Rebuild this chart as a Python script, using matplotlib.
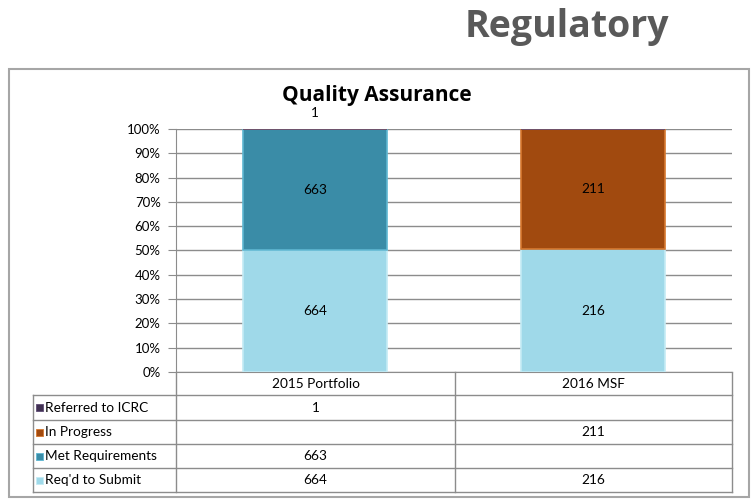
import numpy as np
import matplotlib
matplotlib.use("Agg")
import matplotlib.pyplot as plt
from matplotlib.patches import Rectangle

plt.rcParams["font.family"] = ["Lato", "DejaVu Sans"]

# === Data ===
categories = ["2015 Portfolio", "2016 MSF"]
series_names = ["Req'd to Submit", "Met Requirements", "In Progress", "Referred to ICRC"]
reqd_to_submit = [664, 216]
met_requirements = [663, 0]
in_progress = [0, 211]
referred_icrc = [1, 0]
series_values = [reqd_to_submit, met_requirements, in_progress, referred_icrc]
series_colors = ["#9fd9e9", "#3a8ca7", "#a14a0f", "#403152"]
edge_colors = ["#c4ebf5", "#5fb7d2", "#d7782f", "#5e4b75"]
y_ticks = np.arange(0, 1.01, 0.1)
y_tick_labels = [f"{int(round(t * 100))}%" for t in y_ticks]

W, H = 754, 499
FS = 9.8


def fx(x):
    return x / W


def fy(y):
    return 1 - y / H


fig = plt.figure(figsize=(W / 100, H / 100), dpi=100)
fig.patch.set_facecolor("white")

# === Page heading and outer frame ===
fig.text(fx(567), fy(27), "Regulatory", ha="center", va="center",
         fontsize=27, fontweight="bold", color="#595959",
         family=["Open Sans", "DejaVu Sans"])
fig.patches.append(Rectangle((fx(9), fy(497)), fx(749) - fx(9), fy(69) - fy(497),
                             transform=fig.transFigure, fill=False,
                             edgecolor="#a6a6a6", linewidth=1.5))
fig.text(fx(377), fy(96), "Quality Assurance", ha="center", va="center",
         fontsize=15, fontweight="bold", family=["Open Sans", "DejaVu Sans"])

# === Main chart ===
ax = fig.add_axes([fx(176), fy(372), fx(732) - fx(176), fy(129) - fy(372)])
totals = np.sum(series_values, axis=0)
x = np.arange(len(categories))
bottom = np.zeros(len(categories))
bar_w = 0.52
for vals, col, ec in zip(series_values, series_colors, edge_colors):
    frac = np.array(vals) / totals
    ax.bar(x, frac, bar_w, bottom=bottom, color=col, edgecolor=ec, linewidth=1.2, zorder=3)
    for i, v in enumerate(vals):
        if v == 0:
            continue
        if frac[i] < 0.02:
            ax.annotate(str(v), (x[i], bottom[i] + frac[i]), xytext=(0, 11.5),
                        textcoords="offset points", ha="center", va="center",
                        fontsize=FS, color="black", annotation_clip=False)
        else:
            ax.text(x[i], bottom[i] + frac[i] / 2, str(v), ha="center", va="center",
                    fontsize=FS, color="black", zorder=4)
    bottom += frac

ax.set_xlim(-0.5, len(categories) - 0.5)
ax.set_ylim(0, 1)
ax.set_yticks(y_ticks)
ax.set_yticklabels(y_tick_labels, fontsize=9.5)
ax.set_xticks([])
ax.grid(axis="y", color="#8c8c8c", linewidth=1, zorder=0)
for s in ["top", "right"]:
    ax.spines[s].set_visible(False)
ax.spines["left"].set_color("#8c8c8c")
ax.spines["bottom"].set_color("#8c8c8c")
ax.tick_params(axis="y", length=6, color="#8c8c8c", pad=5)
ax.set_facecolor("none")

# === Data table ===
line_kw = dict(color="#8c8c8c", linewidth=1, transform=fig.transFigure)
row_tops = [372, 395, 420, 444, 468, 492]
table_left, axis_left, col_mid, table_right = 33, 176, 455, 732
fig.add_artist(plt.Line2D([fx(table_right)] * 2, [fy(372), fy(492)], **line_kw))
fig.add_artist(plt.Line2D([fx(col_mid)] * 2, [fy(372), fy(492)], **line_kw))
fig.add_artist(plt.Line2D([fx(axis_left)] * 2, [fy(372), fy(492)], **line_kw))
fig.add_artist(plt.Line2D([fx(table_left)] * 2, [fy(395), fy(492)], **line_kw))
for yy in row_tops[1:]:
    fig.add_artist(plt.Line2D([fx(table_left), fx(table_right)], [fy(yy)] * 2, **line_kw))
col_centers = [(axis_left + col_mid) / 2, (col_mid + table_right) / 2]
for c, name in zip(col_centers, categories):
    fig.text(fx(c), fy((row_tops[0] + row_tops[1]) / 2), name, ha="center",
             va="center", fontsize=FS)
# rows listed top-down in reverse stacking order
for r, idx in enumerate(reversed(range(len(series_names)))):
    yc = (row_tops[r + 1] + row_tops[r + 2]) / 2
    fig.patches.append(Rectangle((fx(36), fy(yc + 3.5)), fx(7), fy(0) - fy(7),
                                 transform=fig.transFigure, facecolor=series_colors[idx],
                                 edgecolor=edge_colors[idx], linewidth=0.6))
    fig.text(fx(45), fy(yc), series_names[idx], ha="left", va="center", fontsize=FS)
    for c, v in zip(col_centers, series_values[idx]):
        if v:
            fig.text(fx(c), fy(yc), str(v), ha="center", va="center", fontsize=FS)

plt.savefig("out.png", dpi=100)
